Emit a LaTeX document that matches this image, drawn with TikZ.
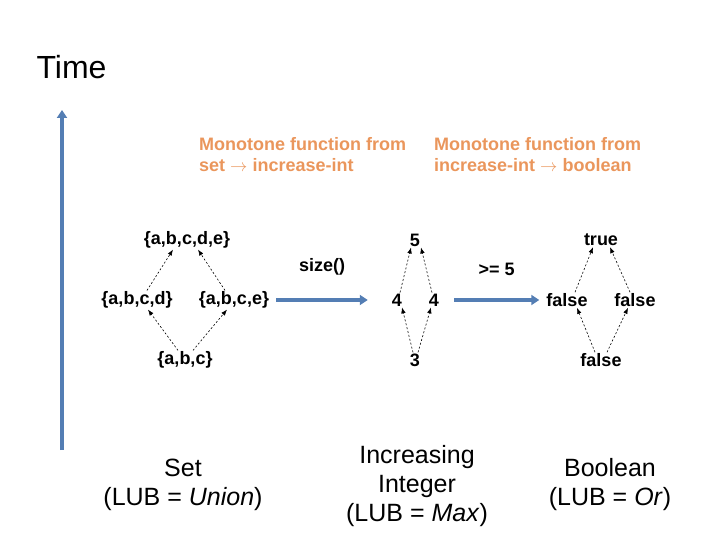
\documentclass[tikz,border=0pt]{standalone}
\usepackage{fontspec}
\setmainfont{Liberation Sans}
\usetikzlibrary{arrows.meta}
\definecolor{flowblue}{RGB}{84,126,180}
\definecolor{fnorange}{RGB}{234,150,92}

\begin{document}
\begin{tikzpicture}[
    x=1pt, y=-1pt,
    elem/.style = {font=\fontsize{18}{21}\selectfont\bfseries, inner sep=1pt},
    fnlabel/.style = {font=\fontsize{18}{21}\selectfont\bfseries, text=fnorange, align=left, anchor=north west, inner sep=0pt},
    latname/.style = {font=\fontsize{25}{29}\selectfont, align=center},
    order/.style = {-{Latex[length=6pt,width=4.5pt]}, dash pattern=on 2pt off 2pt, semithick},
    flow/.style = {draw=flowblue, line width=3.2pt, -{Triangle[length=8pt,width=10pt]}}
]
\useasboundingbox (0,0) rectangle (720,540);

\node (time) [anchor=west, font=\fontsize{32}{36}\selectfont] at (33,67) {Time};
\coordinate (time_base) at (62,450);
\coordinate (time_top) at (62,110);
\draw [flow] (time_base) -- (time_top);

\node (fn_size) [fnlabel] at (199,137) {Monotone function from\\set $\rightarrow$ increase-int};
\node (fn_geq) [fnlabel] at (434,137) {Monotone function from\\increase-int $\rightarrow$ boolean};

% set lattice
\node (abcde) [elem] at (187,240) {\{a,b,c,d,e\}};
\node (abcd) [elem] at (137,300) {\{a,b,c,d\}};
\node (abce) [elem] at (234,300) {\{a,b,c,e\}};
\node (abc) [elem] at (185,360) {\{a,b,c\}};

% integer lattice
\node (five) [elem] at (415,240) {5};
\node (four_l) [elem] at (397,300) {4};
\node (four_r) [elem] at (434,300) {4};
\node (three) [elem] at (415,360) {3};

% boolean lattice
\node (true) [elem] at (601,240) {true};
\node (false_l) [elem] at (567,300) {false};
\node (false_r) [elem] at (635,300) {false};
\node (false_b) [elem] at (601,360) {false};

\draw [order] ([xshift=-7pt]abc.north) -- ([xshift=11pt]abcd.south);
\draw [order] ([xshift=8pt]abc.north) -- ([xshift=-7pt]abce.south);
\draw [order] ([xshift=10pt]abcd.north) -- ([xshift=-14pt]abcde.south);
\draw [order] ([xshift=-9pt]abce.north) -- ([xshift=11pt]abcde.south);

\draw [order] ([xshift=-2pt]three.north) -- ([xshift=5pt]four_l.south);
\draw [order] ([xshift=3pt]three.north) -- ([xshift=-3pt]four_r.south);
\draw [order] ([xshift=3pt]four_l.north) -- ([xshift=-4pt]five.south);
\draw [order] ([xshift=-2pt]four_r.north) -- ([xshift=6pt]five.south);

\draw [order] ([xshift=-6pt]false_b.north) -- ([xshift=10pt]false_l.south);
\draw [order] ([xshift=6pt]false_b.north) -- ([xshift=-7pt]false_r.south);
\draw [order] ([xshift=8pt]false_l.north) -- ([xshift=-8pt]true.south);
\draw [order] ([xshift=-5pt]false_r.north) -- ([xshift=9pt]true.south);

\draw [flow] ([xshift=6pt]abce.east) -- node[midway, above=22pt, elem, text=black]{size()} ([xshift=-23pt]four_l.west);
\draw [flow] ([xshift=14pt]four_r.east) -- node[midway, above=22pt, elem, text=black]{>= 5} ([xshift=-6pt]false_l.west);

\node (set_name) [latname] at (183,485) {Set\\(LUB = \textit{Union})};
\node (int_name) [latname] at (417,486) {Increasing\\Integer\\(LUB = \textit{Max})};
\node (bool_name) [latname] at (610,485) {Boolean\\(LUB = \textit{Or})};

\end{tikzpicture}
\end{document}
